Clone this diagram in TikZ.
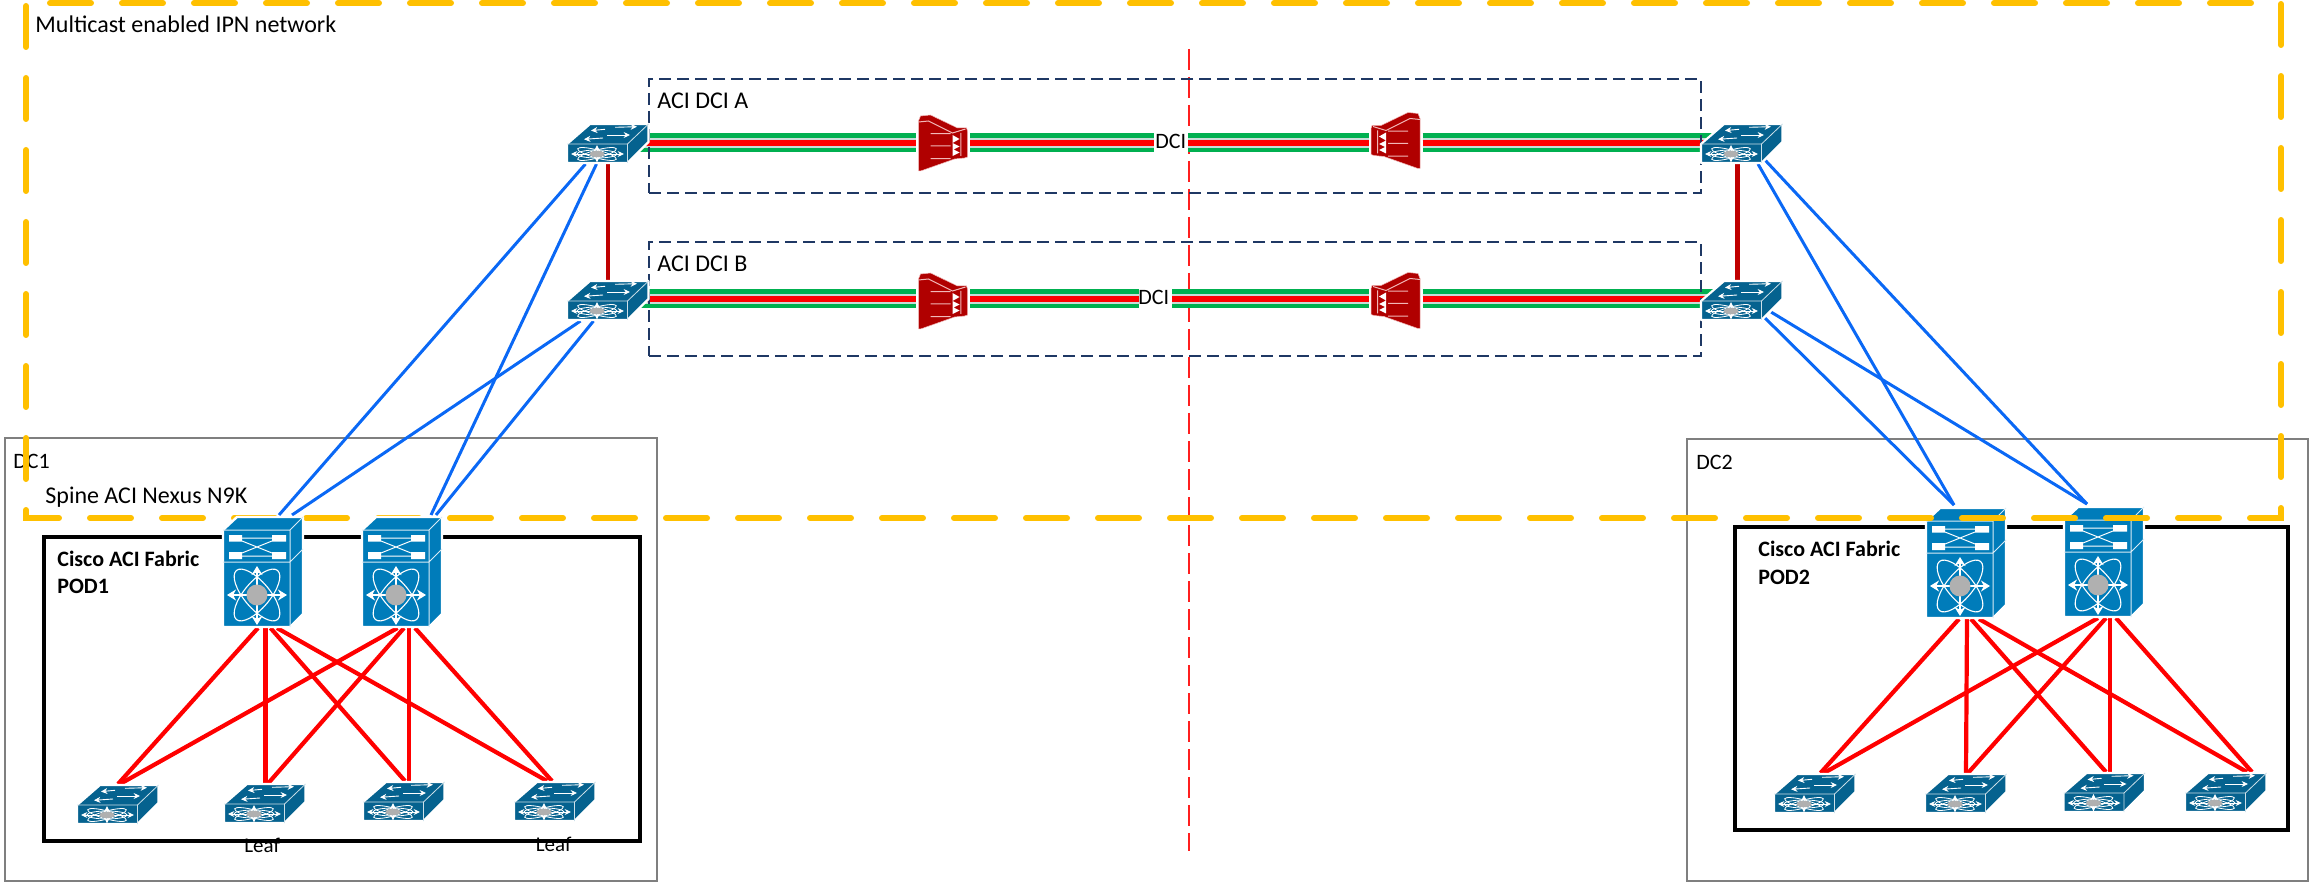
\documentclass[tikz,border=0pt]{standalone}
\usepackage{fontspec}
\setmainfont{Carlito}
\usetikzlibrary{arrows.meta, calc}
\definecolor{swteal}{HTML}{05628F}
\definecolor{spineblue}{HTML}{007CBA}
\definecolor{coregrey}{HTML}{B0B0B0}
\definecolor{fwred}{HTML}{B00000}
\definecolor{fwline}{HTML}{F2B8B8}
\definecolor{ipnyellow}{HTML}{FFC000}
\definecolor{dcinavy}{HTML}{1F3864}
\definecolor{trunkgreen}{HTML}{00B050}
\definecolor{trunkgap}{HTML}{C8DCD8}
\definecolor{uplinkblue}{HTML}{0A68F5}
\definecolor{islred}{HTML}{C00000}
\definecolor{boxgrey}{HTML}{7F7F7F}
\tikzset{
  lbl/.style={inner sep=0pt, anchor=base west, font=\fontsize{12}{14}\selectfont, text=black},
  lblb/.style={lbl, font=\fontsize{11}{13}\selectfont\bfseries},
  lbls/.style={lbl, font=\fontsize{11}{13}\selectfont},
  lblt/.style={lbl, font=\fontsize{10.5}{13}\selectfont},
  dcbox/.style={draw=boxgrey, line width=0.9pt, inner sep=0pt, outer sep=0pt, anchor=north west},
  podbox/.style={draw=black, line width=1.8pt, inner sep=0pt, outer sep=0pt, anchor=north west},
  dcibox/.style={draw=dcinavy, line width=0.7pt, dash pattern=on 6pt off 3pt, inner sep=0pt,
                 outer sep=0pt, anchor=north west, minimum width=526pt, minimum height=57pt},
  swbox/.style={inner sep=0pt, outer sep=0pt, anchor=north west, minimum width=40.75pt, minimum height=19.5pt},
  spbox/.style={inner sep=0pt, outer sep=0pt, anchor=north west, minimum width=40pt, minimum height=55pt},
  fwbox/.style={inner sep=0pt, outer sep=0pt, fill=white, minimum width=27pt, minimum height=28pt},
  ipnline/.style={draw=ipnyellow, line width=3pt, line cap=round, dash pattern=on 20.5pt off 15.5pt, dash phase=24pt},
  uplink/.style={draw=uplinkblue, line width=1.5pt},
  fabric/.style={draw=red, line width=2.1pt},
  isl/.style={draw=islred, line width=2.2pt},
  trunk/.style={draw=trunkgreen, line width=9.5pt,
                postaction={draw=trunkgap, line width=5pt},
                postaction={draw=red, line width=3.2pt}},
  whitearrow/.style={draw=white, line width=0.45pt, -{Stealth[length=3.2pt, width=3pt]}},
  fatarrow/.style={draw=white, line width=1.3pt, {Stealth[length=4.5pt, width=5.5pt]}-{Stealth[length=4.5pt, width=5.5pt]}},
  leaficon/.pic={
    \draw[white, line width=1.1pt, line join=round, fill=swteal]
      (0,20) -- (23,0) -- (81.5,0) -- (81.5,18) -- (60.5,39) -- (0,39) -- cycle;
    \draw[white!80!swteal, line width=0.4pt] (0,20) -- (60.5,20) -- (81.5,0) (60.5,20) -- (60.5,39);
    \draw[whitearrow] (38,5.3) -- (24,6.6);
    \draw[whitearrow] (48,3.3) -- (70,2.7);
    \draw[whitearrow] (36,14) -- (17,15.3);
    \draw[whitearrow] (40,11) -- (63,11);
    \foreach \a in {0,15,-15}
      \draw[white, line width=0.4pt] (30,30) ellipse [x radius=20, y radius=4, rotate=\a];
    \draw[whitearrow] (30,30) -- (4,30);
    \draw[whitearrow] (30,30) -- (57,30);
    \draw[whitearrow] (30,30) -- (30,21);
    \draw[whitearrow] (30,30) -- (30,38.5);
    \fill[coregrey] (30,30) ellipse [x radius=7.5, y radius=3.2];
  },
  spineicon/.pic={
    \draw[white, line width=1.2pt, line join=round, fill=spineblue]
      (0,13) -- (14,0) -- (80,0) -- (80,97) -- (67,110) -- (0,110) -- cycle;
    \draw[white!85!spineblue, line width=0.5pt] (0,13) -- (67,13) -- (80,0) (67,13) -- (67,110)
      (0,45) -- (67,45) -- (80,32);
    \fill[white] (6,18) rectangle (19,24.5) (49,18) rectangle (63,24.5)
                 (6,35) rectangle (19,42) (49,35) rectangle (63,42);
    \draw[white, line width=0.5pt] (19,21) -- (49,21) (19,39) -- (49,39) (19,24) -- (49,36) (19,36) -- (49,24);
    \foreach \a in {50,-50}
      \draw[white, line width=0.55pt] (34,78) ellipse [x radius=32, y radius=13, rotate=\a];
    \draw[fatarrow] (4,78) -- (64,78);
    \draw[fatarrow] (34,49) -- (34,108);
    \fill[coregrey] (34,78) circle [radius=10.5];
  },
  fwicon/.pic={
    \filldraw[fill=fwred, draw=fwline, line width=0.25pt, line join=round]
      (-24.5,-22) -- (-22.5,-27) -- (-12.5,-28) -- (14.5,-15) -- (23.5,-15)
      -- (24.5,-12) -- (24.5,14) -- (21.5,15) -- (11.5,16) -- (-22.5,28) -- (-24.5,28) -- cycle;
    \draw[fwline, line width=0.5pt] (-24.5,-21) -- (-14.5,-22) -- (9.5,-10) -- (22.5,-14)
      (-12.5,-9.3) -- (7.5,-9.3) (-12.5,3) -- (7.5,3) (-12.5,15.6) -- (7.5,15.6) (17.8,-10) -- (17.8,13);
    \fill[white] (9.5,-8) -- (16.5,-4) -- (9.5,0) -- cycle (9.5,0) -- (16.5,3.5) -- (9.5,7) -- cycle
                 (9.5,6) -- (16.5,9.5) -- (9.5,13) -- cycle;
  },
}

\begin{document}
\begin{tikzpicture}[x=0.5pt, y=-0.5pt]
  \useasboundingbox (0,0) rectangle (2309,882);

  % ---- DC side boxes ----
  \node[dcbox, minimum width=326pt, minimum height=221.5pt] (dc1) at (5,438) {};
  \node[dcbox, minimum width=310.5pt, minimum height=221pt] (dc2) at (1687,439) {};
  \node[podbox, minimum width=298pt, minimum height=152pt] (pod1) at (44,537) {};
  \node[podbox, minimum width=276.5pt, minimum height=151.5pt] (pod2) at (1735,527) {};
  \coordinate (midtop) at (1189,49);
  \coordinate (midbot) at (1189,851);
  \draw[draw=red!88!white, line width=0.55pt, dash pattern=on 10.5pt off 3.5pt] (midtop) -- (midbot);

  % ---- Devices ----
  \foreach \n/\x/\y in {swAl/567/124, swBl/567/281, swAr/1701/124, swBr/1701/281,
                        lf1/77/785, lf2/224/784, lf3/363/782, lf4/514/782,
                        lf5/1774/774, lf6/1925/774, lf7/2063.5/773, lf8/2185/773}
    \node[swbox] (\n) at (\x,\y) {};
  \foreach \n/\x/\y in {sp1/223/517, sp2/362/517, sp3/1926/508, sp4/2064/507}
    \node[spbox] (\n) at (\x,\y) {};
  \node[fwbox] (fwAl) at (943,143) {};
  \node[fwbox] (fwAr) at (1395.5,143) {};
  \node[fwbox] (fwBl) at (943,299) {};
  \node[fwbox] (fwBr) at (1395.5,299) {};

  % ---- Edges ----
  \foreach \a/\ax/\ay/\b/\bx/\by in {swAl/18.5/1/sp1/56/-2, swAl/29.5/1/sp2/69/-2,
                                     swBl/13.5/1/sp1/69/-2, swBl/26.5/1/sp2/74/-2,
                                     swAr/57/1/sp3/28/-3, swAr/64/-3/sp4/23/-3,
                                     swBr/63/-3/sp3/28/-3, swBr/70/-8/sp4/23/-3}
    \draw[uplink] ($(\a.south west)+(\ax,\ay)$) -- ($(\b.north west)+(\bx,\by)$);
  \foreach \a/\ax/\b/\bx in {sp1/35/lf1/41, sp1/42.5/lf2/41.5, sp1/47.5/lf3/42, sp1/54/lf4/33,
                             sp2/35.5/lf1/43, sp2/42/lf2/44.5, sp2/47/lf3/46, sp2/53/lf4/38,
                             sp3/33/lf5/46.5, sp3/41/lf6/41, sp3/45/lf7/42.5, sp3/53/lf8/62,
                             sp4/34/lf5/50, sp4/42/lf6/43, sp4/46/lf7/46.5, sp4/52/lf8/67}
    \draw[fabric] ($(\a.south west)+(\ax,1)$) -- ($(\b.north west)+(\bx,-1)$);
  \draw[isl] (swAl) -- (swBl);
  \draw[isl] ([xshift=-2.2pt]swAr.south) -- ([xshift=-2.2pt]swBr.north);
  \draw[trunk] (fwAl -| swAl.center) -- (fwAl);
  \draw[trunk] (fwAl) -- node[pos=0.504, fill=white, inner sep=0pt, minimum width=17pt, minimum height=10pt] (dciA) {} (fwAr);
  \draw[trunk] (fwAr) -- (fwAr -| swAr.center);
  \draw[trunk] (fwBl -| swBl.center) -- (fwBl);
  \draw[trunk] (fwBl) -- node[pos=0.465, fill=white, inner sep=0pt, minimum width=16.5pt, minimum height=10pt] (dciB) {} (fwBr);
  \draw[trunk] (fwBr) -- (fwBr -| swBr.center);

  \node[dcibox] (boxA) at (649,79) {};
  \node[dcibox] (boxB) at (649,242) {};

  % ---- Icons ----
  \foreach \n in {sp3,sp4}
    \pic at (\n.north west) {spineicon};
  \node[lbls] (dc1txt) at (13,468) {DC1};
  \coordinate (ipnTL) at (26,3);
  \coordinate (ipnBR) at (2281,518);
  \draw[ipnline] (ipnTL) -| (ipnBR) -| (ipnTL);
  \foreach \n in {sp1,sp2}
    \pic at (\n.north west) {spineicon};
  \foreach \n in {swAl,swBl,swAr,swBr,lf1,lf2,lf3,lf4,lf5,lf6,lf7,lf8}
    \pic at (\n.north west) {leaficon};
  \pic at (fwAl.center) {fwicon};
  \pic at ([yshift=-1pt]fwBl.center) {fwicon};
  \pic[xscale=-1] at ([yshift=1.25pt]fwAr.center) {fwicon};
  \pic[xscale=-1] at ([yshift=-0.75pt]fwBr.center) {fwicon};

  % ---- Labels ----
  \node[lbl] (ipntxt) at (35,32.5) {Multicast enabled IPN network};
  \node[lbl] (atxt) at (657,109) {ACI DCI A};
  \node[lbl] (btxt) at (657,272) {ACI DCI B};
  \node[lbls] (dcia) at (1155,149) {DCI};
  \node[lbls] (dcib) at (1138,305) {DCI};
  \node[lbl] (spinetxt) at (45,503) {Spine ACI Nexus N9K};
  \node[lblb] (fab1) at (57,566) {Cisco ACI Fabric};
  \node[lblb] (pod1txt) at (57,593) {POD1};
  \node[lbls] (dc2txt) at (1696,469) {DC2};
  \node[lblb] (fab2) at (1758,556) {Cisco ACI Fabric};
  \node[lblb] (pod2txt) at (1758,584) {POD2};
  \node[lblt] (leafa) at (244,852) {Leaf};
  \node[lblt] (leafb) at (535.5,851) {Leaf};
\end{tikzpicture}
\end{document}
